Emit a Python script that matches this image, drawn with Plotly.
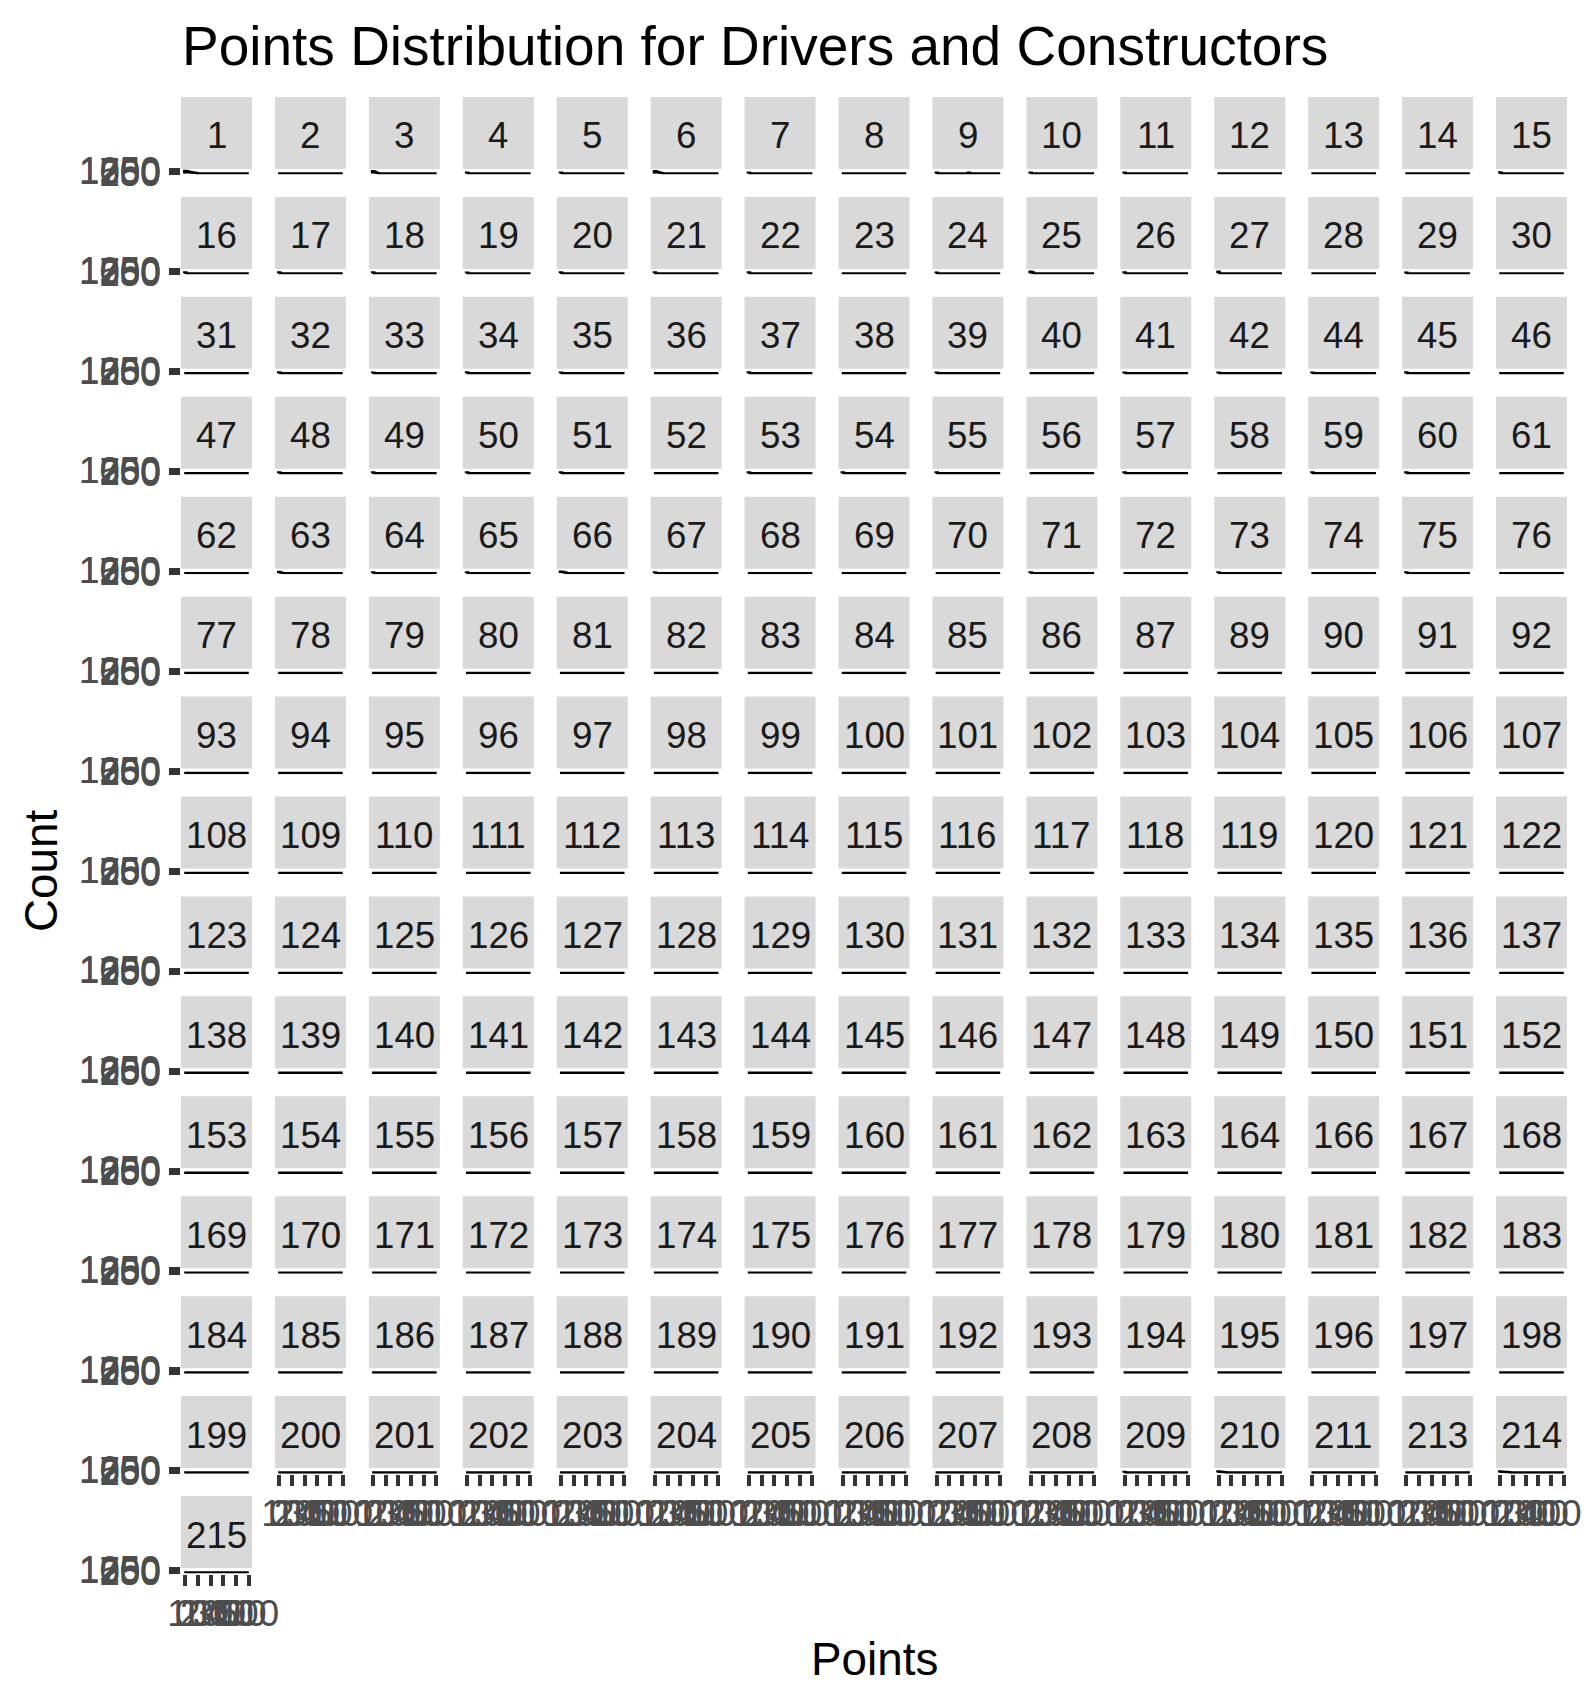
import plotly.graph_objects as go

# ---------------- data ----------------
facet_ids = [
    1, 2, 3, 4, 5, 6, 7, 8, 9, 10, 11, 12, 13, 14, 15,
    16, 17, 18, 19, 20, 21, 22, 23, 24, 25, 26, 27, 28, 29, 30,
    31, 32, 33, 34, 35, 36, 37, 38, 39, 40, 41, 42, 44, 45, 46,
    47, 48, 49, 50, 51, 52, 53, 54, 55, 56, 57, 58, 59, 60, 61,
    62, 63, 64, 65, 66, 67, 68, 69, 70, 71, 72, 73, 74, 75, 76,
    77, 78, 79, 80, 81, 82, 83, 84, 85, 86, 87, 89, 90, 91, 92,
    93, 94, 95, 96, 97, 98, 99, 100, 101, 102, 103, 104, 105, 106, 107,
    108, 109, 110, 111, 112, 113, 114, 115, 116, 117, 118, 119, 120, 121, 122,
    123, 124, 125, 126, 127, 128, 129, 130, 131, 132, 133, 134, 135, 136, 137,
    138, 139, 140, 141, 142, 143, 144, 145, 146, 147, 148, 149, 150, 151, 152,
    153, 154, 155, 156, 157, 158, 159, 160, 161, 162, 163, 164, 166, 167, 168,
    169, 170, 171, 172, 173, 174, 175, 176, 177, 178, 179, 180, 181, 182, 183,
    184, 185, 186, 187, 188, 189, 190, 191, 192, 193, 194, 195, 196, 197, 198,
    199, 200, 201, 202, 203, 204, 205, 206, 207, 208, 209, 210, 211, 213, 214,
    215,
]

# histogram bin edges (points), 30 bins
bin_edges = [-8.5, 8.5, 25.5, 42.5, 59.5, 76.5, 93.5, 110.5, 127.5, 144.5, 161.5,
             178.5, 195.5, 212.5, 229.5, 246.5, 263.5, 280.5, 297.5, 314.5, 331.5,
             348.5, 365.5, 382.5, 399.5, 416.5, 433.5, 450.5, 467.5, 484.5, 501.5]

# facets with visible counts in the lowest bins (all other bins / facets ~0)
bump_facets = [1, 3, 4, 5, 6, 7, 9, 10, 11, 15, 16, 17, 18, 19, 20, 21, 22, 24, 25, 26,
               27, 29, 32, 33, 34, 35, 37, 39, 41, 42, 44, 45, 48, 49, 50, 51, 53, 54,
               55, 57, 59, 60, 63, 64, 65, 66, 67, 71, 73, 75, 209, 210, 214]
bump_bin1 = [1000, 900, 300, 300, 900, 300, 250, 300, 250, 350, 300, 300, 350, 250, 300,
             350, 300, 250, 600, 300, 600, 250, 350, 250, 350, 250, 350, 250, 250, 250,
             250, 300, 300, 250, 300, 300, 250, 250, 250, 250, 250, 250, 450, 250, 250,
             600, 250, 250, 250, 250, 250, 400, 400]
bump_bin2 = [850, 600, 0, 0, 700, 0, 0, 0, 0, 0, 0, 0, 0, 0, 0,
             0, 0, 0, 300, 0, 0, 0, 0, 0, 0, 0, 0, 0, 0, 0,
             0, 0, 0, 0, 0, 0, 0, 0, 0, 0, 0, 0, 200, 0, 0,
             450, 0, 0, 0, 0, 0, 300, 300]
bump_bin3 = [600, 200, 0, 0, 400, 0, 0, 0, 0, 0, 0, 0, 0, 0, 0,
             0, 0, 0, 0, 0, 0, 0, 0, 0, 0, 0, 0, 0, 0, 0,
             0, 0, 0, 0, 0, 0, 0, 0, 0, 0, 0, 0, 0, 0, 0,
             250, 0, 0, 0, 0, 0, 200, 250]
bump_bin4 = [450, 0, 0, 0, 200, 0, 0, 0, 0, 0, 0, 0, 0, 0, 0,
             0, 0, 0, 0, 0, 0, 0, 0, 0, 0, 0, 0, 0, 0, 0,
             0, 0, 0, 0, 0, 0, 0, 0, 0, 0, 0, 0, 0, 0, 0,
             0, 0, 0, 0, 0, 0, 150, 200]
bump_bin5 = [300, 0, 0, 0, 0, 0, 0, 0, 0, 0, 0, 0, 0, 0, 0,
             0, 0, 0, 0, 0, 0, 0, 0, 0, 0, 0, 0, 0, 0, 0,
             0, 0, 0, 0, 0, 0, 0, 0, 0, 0, 0, 0, 0, 0, 0,
             0, 0, 0, 0, 0, 0, 0, 150]
bump_bin6 = [200, 0, 0, 0, 0, 0, 0, 0, 0, 0, 0, 0, 0, 0, 0,
             0, 0, 0, 0, 0, 0, 0, 0, 0, 0, 0, 0, 0, 0, 0,
             0, 0, 0, 0, 0, 0, 0, 0, 0, 0, 0, 0, 0, 0, 0,
             0, 0, 0, 0, 0, 0, 0, 0]
mid_bump_facets = [9]
mid_bump_points = [255]
mid_bump_counts = [300]

x_tick_vals = [0, 100, 200, 300, 400, 500]
y_tick_vals = [0, 250, 500, 750, 1000, 1250]

title_text = "Points Distribution for Drivers and Constructors"
x_title = "Points"
y_title = "Count"

# ---------------- layout geometry (pixels) ----------------
W, H = 1590, 1706
NCOL = 15
COL_LEFT0 = 181.0
COL_PITCH = 93.93
PANEL_W = 71.0
STRIP_TOP0 = 97.0
ROW_PITCH = 99.93
STRIP_H = 72.0
PANEL_H = 5.6
Y_RANGE = [-469, 1719]
X_RANGE = [-34, 527]

FONT = "Liberation Sans, Arial, sans-serif"
TICK_FONT = dict(family=FONT, size=36.7, color="#4D4D4D")
STRIP_FONT = dict(family=FONT, size=36.7, color="#1A1A1A")

n = len(facet_ids)

# build counts per facet
counts = {fid: [0] * (len(bin_edges) - 1) for fid in facet_ids}
for k, fid in enumerate(bump_facets):
    for b, arr in enumerate([bump_bin1, bump_bin2, bump_bin3, bump_bin4, bump_bin5, bump_bin6]):
        counts[fid][b] = arr[k]
for fid, pt, c in zip(mid_bump_facets, mid_bump_points, mid_bump_counts):
    for b in range(len(bin_edges) - 1):
        if bin_edges[b] <= pt < bin_edges[b + 1]:
            counts[fid][b] = c

fig = go.Figure()
layout = dict(
    width=W, height=H, autosize=False,
    margin=dict(l=0, r=0, t=0, b=0, pad=0, autoexpand=False),
    paper_bgcolor="white", plot_bgcolor="white",
    showlegend=False,
)
shapes = []
annotations = []

for i, fid in enumerate(facet_ids):
    r, c = divmod(i, NCOL)
    left = COL_LEFT0 + c * COL_PITCH
    strip_top = STRIP_TOP0 + r * ROW_PITCH
    panel_top = strip_top + STRIP_H
    panel_bot = panel_top + PANEL_H

    ax_id = "" if i == 0 else str(i + 1)
    xname, yname = "xaxis" + ax_id, "yaxis" + ax_id
    xref, yref = "x" + ax_id, "y" + ax_id

    has_below = (i + NCOL) < n
    is_left = (c == 0)

    xa = dict(
        domain=[left / W, (left + PANEL_W) / W],
        anchor=yref, range=X_RANGE, automargin=False,
        showgrid=False, zeroline=False, showline=False,
        tickmode="array", tickvals=x_tick_vals,
        ticktext=[str(v) for v in x_tick_vals],
        fixedrange=True,
    )
    if not has_below:
        xa.update(ticks="outside", ticklen=11, tickwidth=4, tickcolor="#333333",
                  showticklabels=True, tickangle=0, tickfont=TICK_FONT,
                  ticklabelstandoff=-4)
    else:
        xa.update(ticks="", showticklabels=False)

    ya = dict(
        domain=[1 - panel_bot / H, 1 - panel_top / H],
        anchor=xref, range=Y_RANGE, automargin=False,
        showgrid=False, zeroline=False, showline=False,
        tickmode="array", tickvals=y_tick_vals,
        ticktext=[str(v) for v in y_tick_vals],
        fixedrange=True,
    )
    if is_left:
        ya.update(ticks="outside", ticklen=11, tickwidth=4, tickcolor="#333333",
                  showticklabels=True, tickfont=TICK_FONT, ticklabelstandoff=1)
    else:
        ya.update(ticks="", showticklabels=False)

    layout[xname] = xa
    layout[yname] = ya

    cnt = counts[fid]
    xs = [bin_edges[0]] + bin_edges[:-1] + [bin_edges[-1]]
    ys = [0] + cnt + [0]
    fig.add_trace(go.Scatter(
        x=xs, y=ys, mode="lines", line=dict(shape="hv", color="black", width=2.4),
        fill="tozeroy", fillcolor="black",
        xaxis=xref, yaxis=yref, hoverinfo="skip",
    ))

    # strip
    shapes.append(dict(
        type="rect", xref="paper", yref="paper",
        x0=left / W, x1=(left + PANEL_W) / W,
        y0=1 - (strip_top + STRIP_H) / H, y1=1 - strip_top / H,
        fillcolor="#D9D9D9", line=dict(width=0), layer="below",
    ))
    annotations.append(dict(
        text=str(fid), xref="paper", yref="paper",
        x=(left + PANEL_W / 2) / W, y=1 - (strip_top + STRIP_H / 2 + 3) / H,
        xanchor="center", yanchor="middle", showarrow=False, font=STRIP_FONT,
    ))

# axis titles
annotations.append(dict(
    text=y_title, xref="paper", yref="paper", x=41 / W, y=1 - 871 / H,
    xanchor="center", yanchor="middle", textangle=-90, showarrow=False,
    font=dict(family=FONT, size=45.8, color="black"),
))
annotations.append(dict(
    text=x_title, xref="paper", yref="paper", x=874 / W, y=1 - 1659 / H,
    xanchor="center", yanchor="middle", showarrow=False,
    font=dict(family=FONT, size=45.8, color="black"),
))

layout["title"] = dict(
    text=title_text, x=182 / W, xanchor="left", xref="paper",
    y=1 - 46 / H, yanchor="middle", yref="paper", automargin=False,
    font=dict(family=FONT, size=55, color="black"),
)
layout["shapes"] = shapes
layout["annotations"] = annotations

fig.update_layout(**layout)
fig.write_html("out.html")
